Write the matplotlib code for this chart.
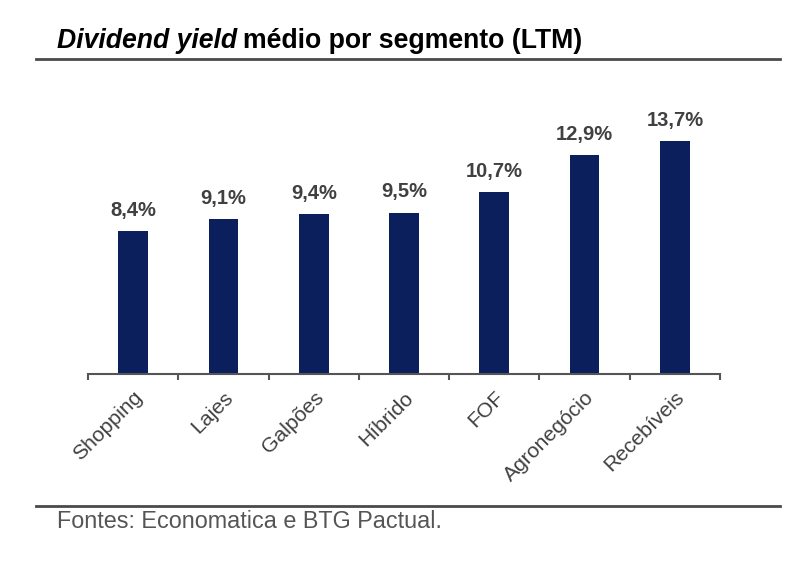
import matplotlib.pyplot as plt
from matplotlib.lines import Line2D

plt.rcParams['font.family'] = ['Liberation Sans', 'DejaVu Sans']

# Dados
segmentos = ['Shopping', 'Lajes', 'Galpões', 'Híbrido', 'FOF', 'Agronegócio', 'Recebíveis']
dy = [8.4, 9.1, 9.4, 9.5, 10.7, 12.9, 13.7]
rotulos = ['8,4%', '9,1%', '9,4%', '9,5%', '10,7%', '12,9%', '13,7%']

W, H = 804, 562
fig = plt.figure(figsize=(W / 100, H / 100), dpi=100)
fig.patch.set_facecolor('white')

ax = fig.add_axes([88 / W, 1 - 374 / H, (720 - 88) / W, 255 / H])
x = list(range(len(segmentos)))
ax.bar(x, dy, width=0.33, color='#0a1f5c')
for xi, v, r in zip(x, dy, rotulos):
    ax.annotate(r, (xi, v), xytext=(0, 8), textcoords='offset points',
                ha='center', va='bottom', fontsize=14.5, fontweight='bold', color='#404040')

ax.set_xlim(-0.5, len(segmentos) - 0.5)
ax.set_ylim(0, 15)
ax.set_yticks([])
for s in ['top', 'right', 'left']:
    ax.spines[s].set_visible(False)
ax.spines['bottom'].set_color('#555555')
ax.spines['bottom'].set_linewidth(1.5)

ax.set_xticks(x)
ax.set_xticklabels(segmentos, rotation=45, ha='right', rotation_mode='anchor',
                   fontsize=15.2, color='#404040')
ax.tick_params(axis='x', which='major', length=0, pad=10)
ax.set_xticks([i - 0.5 for i in range(len(segmentos) + 1)], minor=True)
ax.tick_params(axis='x', which='minor', length=4, width=1.5, color='#555555', direction='out')

# Título
t1 = fig.text(57 / W, 1 - 41 / H, 'Dividend yield', fontsize=19.2, fontweight='bold',
              fontstyle='italic', color='black', va='center', ha='left')
fig.canvas.draw()
bb = t1.get_window_extent()
fig.text((bb.x1 + 6) / W, 1 - 41 / H, 'médio por segmento (LTM)', fontsize=19.2,
         fontweight='bold', color='black', va='center', ha='left')

fig.add_artist(Line2D([36 / W, 780 / W], [1 - 59 / H, 1 - 59 / H], color='#4a4a4a', lw=2))
fig.add_artist(Line2D([36 / W, 780 / W], [1 - 506 / H, 1 - 506 / H], color='#4a4a4a', lw=2))

fig.text(57 / W, 1 - 522 / H, 'Fontes: Economatica e BTG Pactual.', fontsize=16.8,
         color='#555555', va='center', ha='left')

fig.savefig('out.png', dpi=100)
